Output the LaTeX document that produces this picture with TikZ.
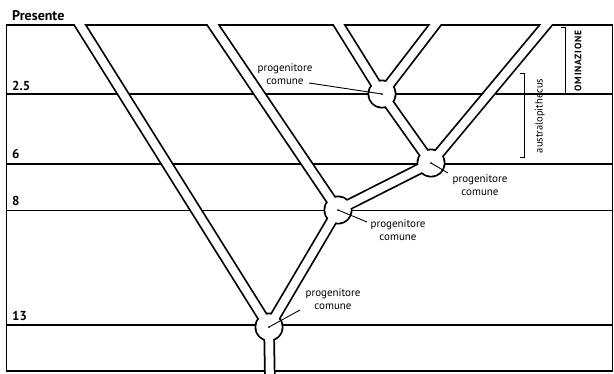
\documentclass[tikz,border=0pt]{standalone}
\usepackage{fontspec}
\setmainfont{PT Sans}
\usetikzlibrary{calc}
\begin{document}
\begin{tikzpicture}[x=1pt,y=-1pt,
  frameline/.style={line width=1.6pt, black},
  tubeout/.style={line width=11.5pt, black},
  tubein/.style={line width=8pt, white},
  lbl/.style={font=\fontsize{11}{13.5}\selectfont, align=center, inner sep=0pt, text=black},
  num/.style={font=\bfseries\fontsize{13}{15}\selectfont, anchor=base west, inner sep=0pt},
  leader/.style={line width=0.9pt, black},
  brk/.style={line width=1pt, black}]
\useasboundingbox (0,0) rectangle (614,373);
% frame and time lines
\draw[frameline] (6.5,25) -- (612.5,25) -- (612.5,371) -- (6.5,371) -- cycle;
\foreach \yy in {94,164,210.5,325} \draw[frameline] (6.5,\yy) -- (612.5,\yy);
% nodes of the tree
\coordinate (n1) at (382,94);
\coordinate (n2) at (431,163);
\coordinate (n3) at (338,210);
\coordinate (n4) at (269,327);
\coordinate (t1) at (70.6,10);
\coordinate (t2) at (202.9,10);
\coordinate (t3) at (329.7,10);
\coordinate (t4) at (446.5,10);
\coordinate (t5) at (558.5,10);
\coordinate (b) at (270,385);
\begin{scope}
\clip (0,24) rectangle (614,380);
\foreach \a/\b in {t1/n4,t2/n3,t3/n1,t4/n1,t5/n2,n1/n2,n2/n3,n3/n4,n4/b}
  \draw[tubeout] (\a) -- (\b);
\foreach \n in {n1,n2,n3,n4} \fill[black] (\n) circle (14.5);
\foreach \a/\b in {t1/n4,t2/n3,t3/n1,t4/n1,t5/n2,n1/n2,n2/n3,n3/n4,n4/b}
  \draw[tubein] (\a) -- (\b);
\foreach \n in {n1,n2,n3,n4} \fill[white] (\n) circle (12.8);
\end{scope}
% labels
\node[num, font=\bfseries\fontsize{14}{16}\selectfont] (pres) at (12,20) {Presente};
\node[num] (l25) at (12,90) {2.5};
\node[num] (l6) at (12,158) {6};
\node[num] (l8) at (12,205) {8};
\node[num] (l13) at (12,320) {13};
% progenitore comune
\node[lbl] (p1) at (285,74) {progenitore\\comune};
\node[lbl] (p2) at (480,185) {progenitore\\comune};
\node[lbl] (p3) at (398,230) {progenitore\\comune};
\node[lbl] (p4) at (333,299) {progenitore\\comune};
\coordinate (e1) at (309,83);
\coordinate (e2) at (448,173);
\coordinate (e3) at (367,222);
\coordinate (e4) at (300,310);
\foreach \e/\n in {e1/n1,e2/n2,e3/n3,e4/n4} {
  \draw[leader] (\e) -- (\n);
  \fill[black] (\n) circle (1);
}
% brackets
\coordinate (om1) at (565,27);
\coordinate (om2) at (565,93);
\draw[brk] ($(om1)+(-4,0)$) -- (om1) -- (om2) -- ($(om2)+(-4,0)$);
\node[rotate=90, font=\bfseries\fontsize{9.5}{11}\selectfont\addfontfeatures{LetterSpace=8}, inner sep=0pt] (om) at (578,61) {OMINAZIONE};
\coordinate (au1) at (524,73);
\coordinate (au2) at (524,157);
\draw[brk] ($(au1)+(-4,0)$) -- (au1) -- (au2) -- ($(au2)+(-4,0)$);
\node[rotate=90, font=\fontsize{10.5}{12}\selectfont, inner sep=0pt] (au) at (540,116) {australopithecus};
\end{tikzpicture}
\end{document}
